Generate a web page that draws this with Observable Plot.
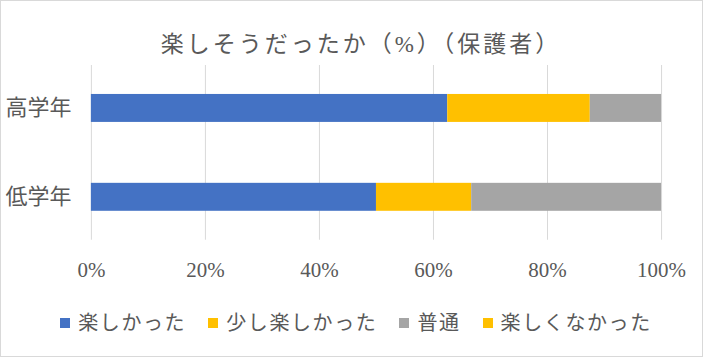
<!DOCTYPE html>
<html><head><meta charset="utf-8">
<script src="https://cdn.jsdelivr.net/npm/d3@7"></script>
<script src="https://cdn.jsdelivr.net/npm/@observablehq/plot@0.6"></script>
<style>
html,body{margin:0;padding:0;background:#fff;}
#wrap{position:relative;width:703px;height:357px;box-sizing:border-box;border:1px solid #d9d9d9;overflow:hidden;
 font-family:"Liberation Serif","Noto Sans CJK JP",serif;color:#595959;}
#title{position:absolute;left:0;top:29px;width:720px;text-align:center;font-size:23px;line-height:30px;letter-spacing:3px;}
#chart{position:absolute;left:-1px;top:64px;}
#legend{position:absolute;left:0;top:308px;width:710px;display:flex;justify-content:center;align-items:center;font-size:20px;line-height:28px;letter-spacing:1.6px;}
.item{display:flex;align-items:center;margin:0 11px;}
.sw{width:10px;height:10px;margin-right:8px;}
</style></head>
<body><div id="wrap"><div id="title">楽しそうだったか（%）（保護者）</div><div id="chart"></div><div id="legend"></div></div>
<script>
const grades = ["高学年", "低学年"];
const series = ["楽しかった", "少し楽しかった", "普通", "楽しくなかった"];
const colors = ["#4472C4", "#FFC000", "#A5A5A5", "#FFC000"];
const values = {
  "高学年": [62.5, 25, 12.5, 0],
  "低学年": [50, 16.7, 33.3, 0]
};
const xTicks = [0, 20, 40, 60, 80, 100];

const data = [];
series.forEach((s, i) => grades.forEach(g => data.push({grade: g, series: s, value: values[g][i]})));

const plot = Plot.plot({
  width: 703, height: 226,
  marginLeft: 91, marginRight: 41, marginTop: 0, marginBottom: 51,
  style: {fontFamily: '"Liberation Serif","Noto Sans CJK JP",serif', fontSize: "20px", color: "#595959", background: "transparent"},
  x: {domain: [0, 100], ticks: xTicks, tickFormat: d => d + "%", tickSize: 0, tickPadding: 22, label: null},
  y: {domain: grades, range: [0, 175], paddingInner: 0.689, paddingOuter: 0.317, tickSize: 0, tickPadding: 20, label: null},
  color: {domain: series, range: colors},
  marks: [
    Plot.gridX(xTicks, {stroke: "#d9d9d9", strokeOpacity: 1, strokeWidth: 1}),
    Plot.barX(data, Plot.stackX({x: "value", y: "grade", fill: "series", order: series})),
    Plot.axisX({ticks: xTicks, tickFormat: d => d + "%", tickSize: 0, tickPadding: 22, fontSize: 21, fill: "#595959"}),
    Plot.axisY({tickSize: 0, tickPadding: 20, fontSize: 22, fill: "#595959"})
  ]
});
document.getElementById("chart").appendChild(plot);

const legend = document.getElementById("legend");
series.forEach((s, i) => {
  const it = document.createElement("div"); it.className = "item";
  const sw = document.createElement("div"); sw.className = "sw"; sw.style.background = colors[i];
  const t = document.createElement("span"); t.textContent = s;
  it.appendChild(sw); it.appendChild(t); legend.appendChild(it);
});
</script></body></html>
